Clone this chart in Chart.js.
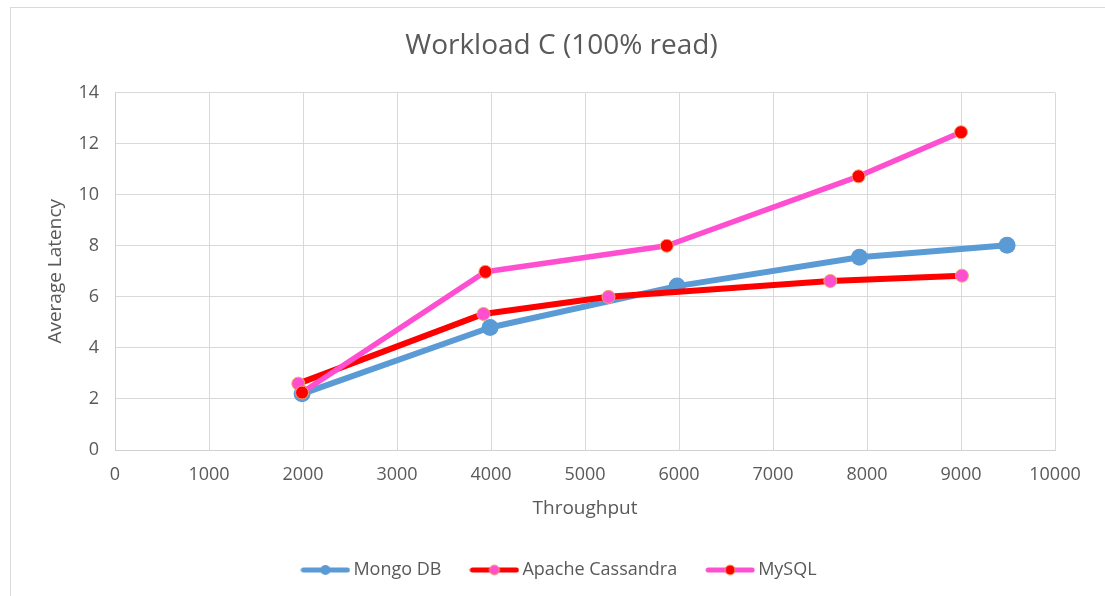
<!DOCTYPE html>
<html>
<head>
<meta charset="utf-8">
<script src="https://cdn.jsdelivr.net/npm/chart.js@4/dist/chart.umd.min.js"></script>
<style>
  html, body { margin: 0; padding: 0; background: #ffffff; }
  #wrap { position: relative; width: 1105px; height: 596px; overflow: hidden; }
  #frame { position: absolute; left: 10px; top: 7px; width: 1120px; height: 620px; border: 1px solid #dadada; box-sizing: border-box; }
  #chart { position: absolute; left: 0; top: 0; }
</style>
</head>
<body>
<div id="wrap">
  <div id="frame"></div>
  <canvas id="chart" width="1105" height="596"></canvas>
</div>
<script>
// Throughput (ops/sec) vs. average latency for each database
const mongoThroughput = [1990, 3990, 5980, 7920, 9490];
const mongoLatency = [2.2, 4.8, 6.42, 7.55, 8.02];

const cassandraThroughput = [1950, 3920, 5250, 7610, 9010];
const cassandraLatency = [2.6, 5.33, 6.0, 6.62, 6.83];

const mysqlThroughput = [1990, 3940, 5870, 7910, 9000];
const mysqlLatency = [2.25, 6.98, 8.0, 10.72, 12.45];

const seriesNames = ['Mongo DB', 'Apache Cassandra', 'MySQL'];
const chartTitle = 'Workload C (100% read)';
const xAxisTitle = 'Throughput';
const yAxisTitle = 'Average Latency';

const FONT = "'Open Sans', 'DejaVu Sans', sans-serif";
const TEXT = '#595959';
const GRID = '#d9d9d9';

function toPoints(xs, ys) {
  return xs.map((x, i) => ({ x: x, y: ys[i] }));
}

// Legend swatch: a short line with the series marker in the middle
function legendIcon(lineColor, fill, stroke, r) {
  const c = document.createElement('canvas');
  c.width = 50; c.height = 16;
  const g = c.getContext('2d');
  g.strokeStyle = lineColor; g.lineWidth = 5; g.lineCap = 'round';
  g.beginPath(); g.moveTo(3, 8); g.lineTo(47, 8); g.stroke();
  g.beginPath(); g.arc(25, 8, r, 0, Math.PI * 2);
  g.fillStyle = fill; g.fill();
  if (stroke) { g.strokeStyle = stroke; g.lineWidth = 1; g.stroke(); }
  return c;
}

const BLUE = '#5B9BD5';
const RED = '#FF0000';
const PINK = '#FF4FD1';
const ORANGE = '#F4A46A';

const icons = [
  legendIcon(BLUE, BLUE, null, 5),
  legendIcon(RED, PINK, ORANGE, 5),
  legendIcon(PINK, RED, ORANGE, 5)
];

new Chart(document.getElementById('chart'), {
  type: 'line',
  data: {
    datasets: [
      {
        label: seriesNames[0],
        data: toPoints(mongoThroughput, mongoLatency),
        borderColor: BLUE, backgroundColor: BLUE,
        borderWidth: 6,
        pointRadius: 8.5, pointBackgroundColor: BLUE, pointBorderColor: BLUE, pointBorderWidth: 0,
        order: 3
      },
      {
        label: seriesNames[1],
        data: toPoints(cassandraThroughput, cassandraLatency),
        borderColor: RED, backgroundColor: RED,
        borderWidth: 6,
        pointRadius: 6.5, pointBackgroundColor: PINK, pointBorderColor: ORANGE, pointBorderWidth: 1,
        order: 2
      },
      {
        label: seriesNames[2],
        data: toPoints(mysqlThroughput, mysqlLatency),
        borderColor: PINK, backgroundColor: PINK,
        borderWidth: 5.5,
        pointRadius: 6.5, pointBackgroundColor: RED, pointBorderColor: ORANGE, pointBorderWidth: 1,
        order: 1
      }
    ]
  },
  options: {
    responsive: false,
    animation: false,
    devicePixelRatio: 1,
    layout: { padding: { left: 68, right: 50, top: 0, bottom: 7 } },
    elements: {
      line: { tension: 0, borderCapStyle: 'round', borderJoinStyle: 'round' },
      point: { pointStyle: 'circle' }
    },
    plugins: {
      title: {
        display: true,
        text: chartTitle,
        color: TEXT,
        font: { family: FONT, size: 28, weight: 'normal' },
        padding: { top: 29, bottom: 30 }
      },
      legend: {
        position: 'bottom',
        labels: {
          usePointStyle: true,
          pointStyleWidth: 38,
          boxHeight: 16,
          padding: 34,
          color: TEXT,
          font: { family: FONT, size: 18 },
          generateLabels: (chart) => chart.data.datasets.map((ds, i) => ({
            text: ds.label,
            datasetIndex: i,
            pointStyle: icons[i],
            fillStyle: 'transparent',
            strokeStyle: 'transparent',
            lineWidth: 0,
            fontColor: TEXT,
            hidden: false
          }))
        }
      },
      tooltip: { enabled: false }
    },
    scales: {
      x: {
        type: 'linear',
        min: 0, max: 10000,
        ticks: { stepSize: 1000, color: TEXT, padding: 14, font: { family: FONT, size: 18 }, maxRotation: 0,
                 callback: (v) => String(v) },
        grid: { color: GRID, lineWidth: 1, drawTicks: false },
        border: { color: '#cfcfcf', width: 1 },
        title: { display: true, text: xAxisTitle, color: TEXT, font: { family: FONT, size: 19 }, padding: { top: 0, bottom: 7 } },
        afterFit: (s) => { s.height = 77; }
      },
      y: {
        type: 'linear',
        min: 0, max: 14,
        ticks: { stepSize: 2, color: TEXT, padding: 16, font: { family: FONT, size: 18 },
                 callback: (v) => String(v) },
        grid: { color: GRID, lineWidth: 1, drawTicks: false },
        border: { color: '#cfcfcf', width: 1 },
        title: { display: true, text: yAxisTitle, color: TEXT, font: { family: FONT, size: 19 }, padding: { top: -24, bottom: 0 } },
        afterFit: (s) => { s.width = 47; }
      }
    }
  }
});
</script>
</body>
</html>
